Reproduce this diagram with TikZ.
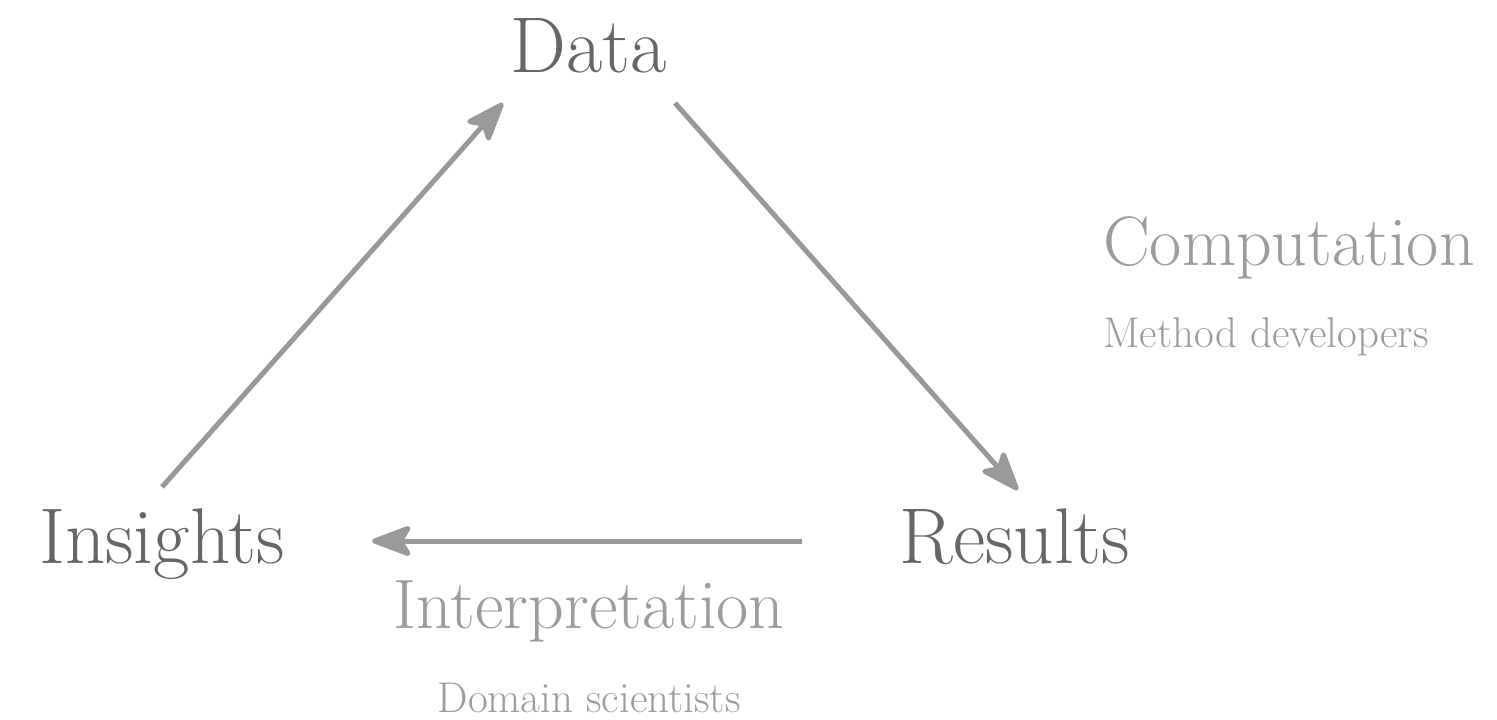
\documentclass[tikz,border=0pt]{standalone}
\usepackage{fontspec}
\usetikzlibrary{arrows.meta}
\definecolor{labeldark}{HTML}{666666}
\definecolor{labellight}{HTML}{9C9C9C}
\definecolor{arrowgrey}{HTML}{999999}
\tikzset{
  stage/.style={text=labeldark, inner sep=0pt, anchor=base, font=\fontsize{79}{88}\selectfont},
  role/.style={text=labellight, inner sep=0pt, anchor=base, font=\fontsize{70}{78}\selectfont},
  group/.style={text=labellight, inner sep=0pt, anchor=base, font=\fontsize{43}{48}\selectfont},
  flow/.style={draw=arrowgrey, line width=5pt,
    -{Stealth[length=46pt,width=34pt,inset=10pt,round]}},
}
\begin{document}
\begin{tikzpicture}[x=1pt,y=-1pt]
\useasboundingbox (0,0) rectangle (1497,720);
% the three stages of the cycle
\node[stage] (data) at (589,72) {Data};
\node[stage] (insights) at (162,563) {Insights};
\node[stage] (results) at (1015,563) {Results};
% roles and who fills them
\node[role, anchor=base west] (comp) at (1103,265) {Computation};
\node[group, anchor=base west] (dev) at (1103,347) {Method developers};
\node[role] (interp) at (589,628) {Interpretation};
\node[group] (sci) at (589,712) {Domain scientists};
% arrow end points
\coordinate (i-out) at (162,487);
\coordinate (d-in) at (503,103);
\coordinate (d-out) at (675,103);
\coordinate (r-in) at (1018,490);
\coordinate (r-out) at (802,541);
\coordinate (i-in) at (372,541);
\draw[flow] (i-out) -- (d-in);
\draw[flow] (d-out) -- (r-in);
\draw[flow] (r-out) -- (i-in);
\end{tikzpicture}
\end{document}
